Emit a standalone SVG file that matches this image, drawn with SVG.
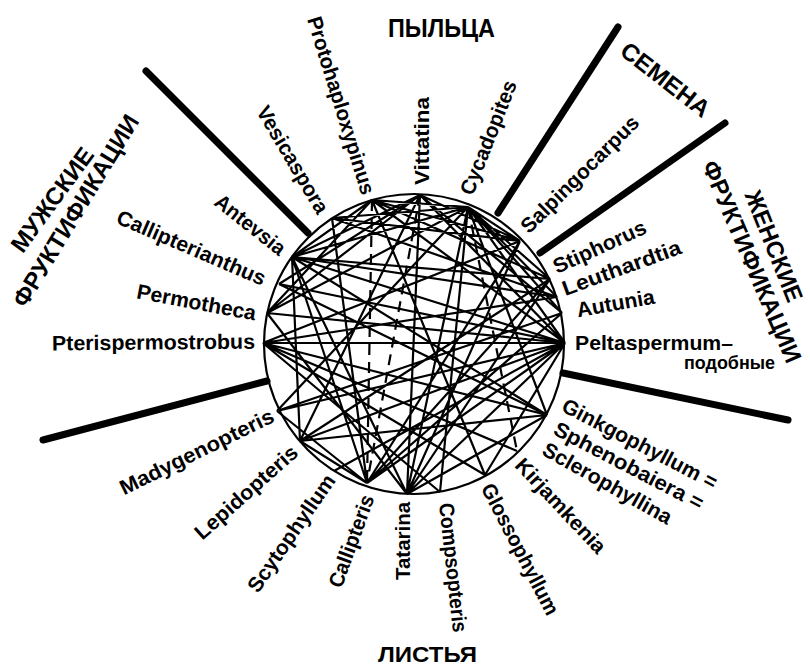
<svg xmlns="http://www.w3.org/2000/svg" width="810" height="667" viewBox="0 0 810 667">
<style>
text{font-family:"Liberation Sans",Arial,sans-serif;font-weight:bold;fill:#000}
.lb{font-size:21px;dominant-baseline:central;text-anchor:middle}
.cat{font-size:24px;dominant-baseline:central;text-anchor:middle}
.sep{stroke:#000;stroke-width:7;stroke-linecap:round;fill:none}
.ch{stroke:#000;stroke-width:2.2;fill:none;stroke-linejoin:round}
.da{stroke:#000;stroke-width:2.2;fill:none;stroke-dasharray:11 7}
</style>
<rect width="810" height="667" fill="#fff"/>
<g id="separators">
<line class="sep" x1="146" y1="71" x2="308" y2="233"/>
<line class="sep" x1="618" y1="27" x2="498" y2="213"/>
<line class="sep" x1="725" y1="123" x2="540" y2="253"/>
<line class="sep" x1="563" y1="373" x2="788" y2="420"/>
<line class="sep" x1="43" y1="440" x2="267" y2="381"/>
</g>
<g id="circle"><circle cx="414" cy="344" r="150" fill="none" stroke="#000" stroke-width="2.2"/></g>
<g id="connectors">
<path class="ch" d="M565 343L292 257M565 343L279 284M565 343L267 313M565 343L263 343M565 343L277 411M565 343L300 441M565 343L334 471M565 343L367 483M565 343L407 494M565 343L485 475M565 343L372 200M565 343L420 195M565 343L468 207
M292 257L420 195M292 257L372 200M292 257L468 207M292 257L550 279M292 257L557 297M292 257L547 415M292 257L407 494M292 257L367 483M292 257L300 441
M332 218L367 483M332 218L557 297M332 218L468 207M332 218L520 241
M372 200L520 241M372 200L550 279M372 200L485 475M372 200L267 313M372 200L468 207
M420 195L520 241M420 195L562 313M420 195L267 313M420 195L300 441M420 195L407 494M420 195L279 284
M468 207L520 241M468 207L550 279M468 207L557 297M468 207L562 313M468 207L267 313M468 207L277 411M468 207L407 494M468 207L440 492M468 207L547 415
M520 241L263 343M520 241L367 483M520 241L407 494
M550 279L300 441M550 279L367 483M550 279L407 494
M557 297L263 343
M562 313L367 483M562 313L277 411
M547 415L300 441M547 415L279 284M547 415L263 343M547 415L407 494
M517 451L263 343
M485 475L263 343
M440 492L263 343
M407 494L267 313
M367 483L300 441M367 483L277 411"/>
<path class="da" d="M372 200L367 483M420 195L367 483M468 207L517 451"/>
</g>
<g id="node-protohaploxypinus"><text class="lb" transform="translate(341.5 105.5) rotate(72.8)" textLength="185" lengthAdjust="spacingAndGlyphs">Protohaploxypinus</text></g>
<g id="node-vesicaspora"><text class="lb" transform="translate(293 159.5) rotate(59.5)" textLength="121" lengthAdjust="spacingAndGlyphs">Vesicaspora</text></g>
<g id="node-antevsia"><text class="lb" transform="translate(250.5 224.5) rotate(38.3)" textLength="84" lengthAdjust="spacingAndGlyphs">Antevsia</text></g>
<g id="node-callipterianthus"><text class="lb" transform="translate(191.5 247.5) rotate(23.3)" textLength="160" lengthAdjust="spacingAndGlyphs">Callipterianthus</text></g>
<g id="node-permotheca"><text class="lb" transform="translate(196.5 302) rotate(10.6)" textLength="121" lengthAdjust="spacingAndGlyphs">Permotheca</text></g>
<g id="node-pterispermostrobus"><text class="lb" transform="translate(153.5 342) rotate(-0.5)" textLength="203" lengthAdjust="spacingAndGlyphs">Pterispermostrobus</text></g>
<g id="node-madygenopteris"><text class="lb" transform="translate(196.5 451.5) rotate(-26.1)" textLength="169" lengthAdjust="spacingAndGlyphs">Madygenopteris</text></g>
<g id="node-lepidopteris"><text class="lb" transform="translate(246 492) rotate(-41.6)" textLength="130" lengthAdjust="spacingAndGlyphs">Lepidopteris</text></g>
<g id="node-scytophyllum"><text class="lb" transform="translate(291 533) rotate(-55.3)" textLength="138" lengthAdjust="spacingAndGlyphs">Scytophyllum</text></g>
<g id="node-callipteris"><text class="lb" transform="translate(351 541) rotate(-69.9)" textLength="97" lengthAdjust="spacingAndGlyphs">Callipteris</text></g>
<g id="node-tatarina"><text class="lb" transform="translate(402 541) rotate(-90)" textLength="78" lengthAdjust="spacingAndGlyphs">Tatarina</text></g>
<g id="node-compsopteris"><text class="lb" transform="translate(453.5 567.5) rotate(83.8)" textLength="130" lengthAdjust="spacingAndGlyphs">Compsopteris</text></g>
<g id="node-glossophyllum"><text class="lb" transform="translate(520.5 549) rotate(62.7)" textLength="145" lengthAdjust="spacingAndGlyphs">Glossophyllum</text></g>
<g id="node-kirjamkenia"><text class="lb" transform="translate(561 505.5) rotate(46.8)" textLength="122" lengthAdjust="spacingAndGlyphs">Kirjamkenia</text></g>
<g id="node-ginkgophyllum">
<text class="lb" transform="translate(640 443.5) rotate(27.5)" textLength="172" lengthAdjust="spacingAndGlyphs">Ginkgophyllum =</text>
<text class="lb" transform="translate(629 465.5) rotate(27.6)" textLength="166" lengthAdjust="spacingAndGlyphs">Sphenobaiera =</text>
<text class="lb" transform="translate(607.5 483) rotate(29.4)" textLength="145" lengthAdjust="spacingAndGlyphs">Sclerophyllina</text>
</g>
<g id="node-peltaspermum">
<text x="575" y="350" font-size="21" textLength="158" lengthAdjust="spacingAndGlyphs">Peltaspermum–</text>
<text x="684" y="369" font-size="18" textLength="91" lengthAdjust="spacingAndGlyphs">подобные</text>
</g>
<g id="node-autunia"><text class="lb" transform="translate(615.5 303) rotate(-10)" textLength="79" lengthAdjust="spacingAndGlyphs">Autunia</text></g>
<g id="node-leuthardtia"><text class="lb" transform="translate(621.5 267.5) rotate(-20)" textLength="125" lengthAdjust="spacingAndGlyphs">Leuthardtia</text></g>
<g id="node-stiphorus"><text class="lb" transform="translate(599.5 246.5) rotate(-24.5)" textLength="100" lengthAdjust="spacingAndGlyphs">Stiphorus</text></g>
<g id="node-salpingocarpus"><text class="lb" transform="translate(579.5 174) rotate(-44.7)" textLength="157" lengthAdjust="spacingAndGlyphs">Salpingocarpus</text></g>
<g id="node-cycadopites"><text class="lb" transform="translate(488 137.5) rotate(-68.4)" textLength="121" lengthAdjust="spacingAndGlyphs">Cycadopites</text></g>
<g id="node-vittatina"><text class="lb" transform="translate(421.5 141) rotate(-90)" textLength="88" lengthAdjust="spacingAndGlyphs">Vittatina</text></g>
<g id="categories">
<text x="388" y="37" font-size="25" textLength="107" lengthAdjust="spacingAndGlyphs">ПЫЛЬЦА</text>
<text x="378" y="662" font-size="22" textLength="99" lengthAdjust="spacingAndGlyphs">ЛИСТЬЯ</text>
<text class="cat" transform="translate(665.5 79.5) rotate(37.8)" textLength="106" lengthAdjust="spacingAndGlyphs">СЕМЕНА</text>
<text class="cat" transform="translate(52 199.5) rotate(-53.9)" textLength="123" lengthAdjust="spacingAndGlyphs">МУЖСКИЕ</text>
<text class="cat" transform="translate(75.5 210.5) rotate(-58.7)" textLength="220" lengthAdjust="spacingAndGlyphs">ФРУКТИФИКАЦИИ</text>
<text class="cat" transform="translate(774 246) rotate(68.2)" textLength="118" lengthAdjust="spacingAndGlyphs">ЖЕНСКИЕ</text>
<text class="cat" transform="translate(752 261.5) rotate(66.8)" textLength="217" lengthAdjust="spacingAndGlyphs">ФРУКТИФИКАЦИИ</text>
</g>
</svg>
